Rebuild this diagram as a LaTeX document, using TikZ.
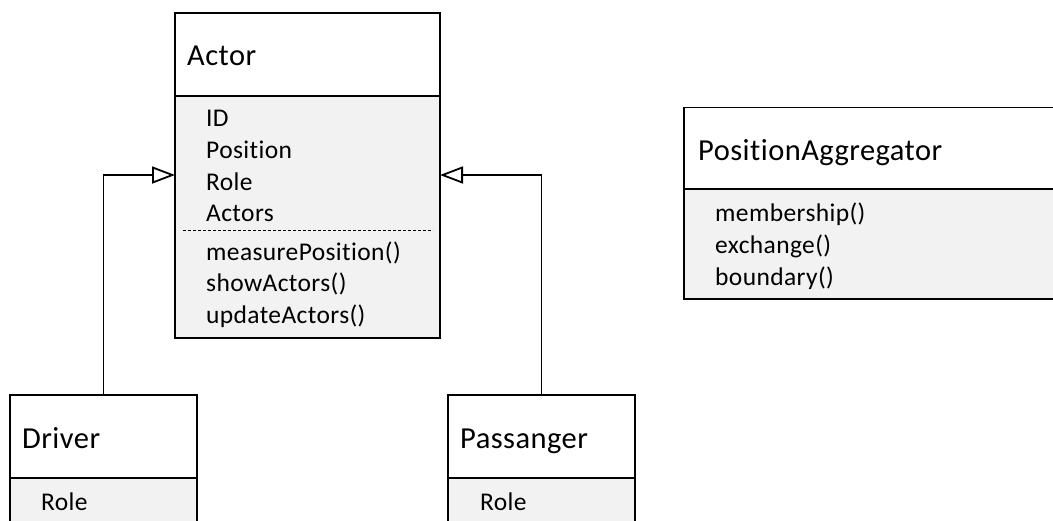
\documentclass[tikz,border=0pt]{standalone}
\usepackage{fontspec}
\setmainfont{Carlito}[Ligatures=NoCommon, LetterSpace=1.5]
\usetikzlibrary{arrows.meta}
\begin{document}
\begin{tikzpicture}[x=1pt,y=-1pt,
  part/.style={draw=black, line width=1.8pt, inner sep=0pt, outer sep=0pt, anchor=north west},
  head/.style={part, fill=white},
  body/.style={part, fill=black!5},
  title/.style={anchor=base west, inner sep=0pt, font=\fontsize{30.5}{36}\selectfont},
  member/.style={anchor=base west, inner sep=0pt, font=\fontsize{25.5}{31}\selectfont},
  gen/.style={line width=1.8pt, -{Triangle[open, length=23pt, width=17pt, line width=1.8pt]}},
  sepline/.style={line width=1.1pt, dash pattern=on 3pt off 2pt}]
\useasboundingbox (0,0) rectangle (1053,520);
\clip (0,0) rectangle (1053,520);

% Actor
\node[head, minimum width=265pt, minimum height=83pt] (actorhead) at (175,13) {};
\node[body, minimum width=265pt, minimum height=242pt] (actorbody) at (175,96) {};
\node[title] (actorname) at (187,65) {Actor};
\node[member] (aid)   at (206,126.7) {ID};
\node[member] (apos)  at (206,158.3) {Position};
\node[member] (arole) at (206,190) {Role};
\node[member] (aacts) at (206,221.7) {Actors};
\coordinate (dashL) at (183,230.7);
\coordinate (dashR) at (433,230.7);
\draw[sepline] (dashL) -- (dashR);
\node[member] (ameas) at (206,260) {measurePosition()};
\node[member] (ashow) at (206,291.7) {showActors()};
\node[member] (aupd)  at (206,323.3) {updateActors()};

% Driver
\node[head, minimum width=187pt, minimum height=83pt] (driverhead) at (10,395) {};
\node[body, minimum width=187pt, minimum height=80pt] (driverbody) at (10,478) {};
\node[title] (drivername) at (22,448.3) {Driver};
\node[member] (drole) at (41,510) {Role};

% Passanger
\node[head, minimum width=187pt, minimum height=83pt] (passhead) at (448,395) {};
\node[body, minimum width=187pt, minimum height=80pt] (passbody) at (448,478) {};
\node[title] (passname) at (460,448.3) {Passanger};
\node[member] (prole) at (480,510) {Role};

% PositionAggregator
\node[head, minimum width=400pt, minimum height=81.5pt] (aggrhead) at (684,107.5) {};
\node[body, minimum width=400pt, minimum height=110pt] (aggrbody) at (684,189) {};
\node[title] (aggrname) at (698,160) {PositionAggregator};
\node[member] (gmem) at (715,221.7) {membership()};
\node[member] (gexc) at (715,253.3) {exchange()};
\node[member] (gbnd) at (715,285) {boundary()};

% Generalisations
\coordinate (actorLin) at (actorbody.west |- 0,175);
\coordinate (actorRin) at (actorbody.east |- 0,175);
\draw[gen] (driverhead.north) |- (actorLin);
\draw[gen] (passhead.north) |- (actorRin);
\end{tikzpicture}
\end{document}
